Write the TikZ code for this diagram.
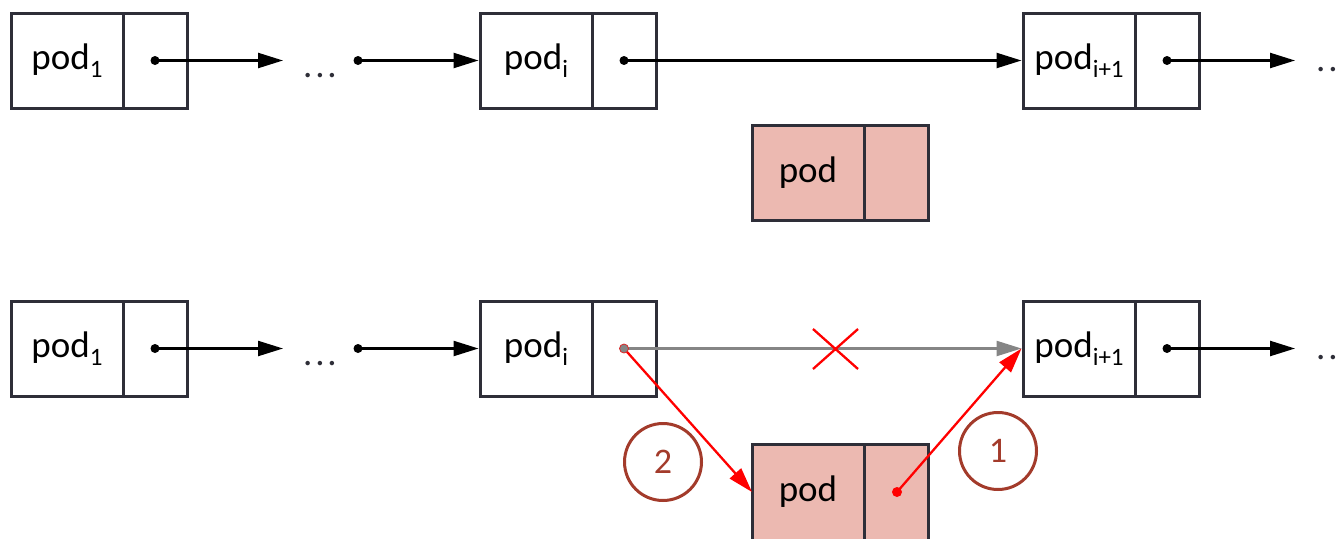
\documentclass[tikz,border=0pt]{standalone}
\usepackage{fontspec}
\setmainfont{Carlito}
\usetikzlibrary{arrows.meta}
\definecolor{bord}{HTML}{2E2E38}
\definecolor{podfill}{HTML}{ECB9B1}
\definecolor{circ}{HTML}{A33B2B}
\definecolor{grayline}{HTML}{858585}
\newcommand\sbs[1]{\raisebox{-8pt}{\fontsize{25}{25}\selectfont #1}}
\newcommand\elli{.\kern2.8pt.\kern2.8pt.}
\begin{document}
\begin{tikzpicture}[x=1pt,y=-1pt,
  cellL/.style={draw=bord, line width=3pt, minimum width=112pt, minimum height=95pt, inner sep=0pt, font=\fontsize{37}{40}\selectfont},
  cellR/.style={draw=bord, line width=3pt, minimum width=64pt, minimum height=95pt, inner sep=0pt},
  redcell/.style={fill=podfill},
  arr/.style={line width=2.3pt, -{Triangle[length=25pt,width=15pt]}},
  grayarr/.style={line width=2.3pt, grayline, -{Triangle[length=25pt,width=15pt]}},
  redarr/.style={line width=2.3pt, red, -{Triangle[length=25pt,width=15pt]}},
  ell/.style={font=\fontsize{37}{40}\selectfont, text=bord, inner sep=0pt, anchor=base west},
  num/.style={circle, draw=circ, line width=3pt, minimum size=77pt, inner sep=0pt, text=circ, font=\fontsize{36}{38}\selectfont}
]
\useasboundingbox (0,0) rectangle (1340,538);
\clip (0,0) rectangle (1340,538);

% ---------- top row ----------
\node[cellL] (a1) at (67,60.5) {pod\sbs{1}};
\node[cellR] (a1r) at (155,60.5) {};
\node[ell] (e1) at (303,77) {\elli};
\coordinate (t1) at (283,60.5);
\coordinate (s1) at (358,60.5);
\node[cellL] (ai) at (536,60.5) {pod\sbs{i}};
\node[cellR] (air) at (624,60.5) {};
\node[cellL] (aip) at (1079,60.5) {pod\sbs{i+1}};
\node[cellR] (aipr) at (1167,60.5) {};
\coordinate (t2) at (1295,60.5);
\node[ell] (e2) at (1316,71) {\elli};

\fill (a1r.center) circle (4.5);
\draw[arr] (a1r.center) -- (t1);
\fill (s1) circle (4.5);
\draw[arr] (s1) -- (ai.west);
\fill (air.center) circle (4.5);
\draw[arr] (air.center) -- (aip.west);
\fill (aipr.center) circle (4.5);
\draw[arr] (aipr.center) -- (t2);

% new pod (top)
\node[cellL, redcell] (rp) at (808,172.5) {pod};
\node[cellR, redcell] (rpr) at (896,172.5) {};

% ---------- bottom row ----------
\node[cellL] (b1) at (67,348.5) {pod\sbs{1}};
\node[cellR] (b1r) at (155,348.5) {};
\node[ell] (e3) at (303,365) {\elli};
\coordinate (t3) at (283,348.5);
\coordinate (s3) at (358,348.5);
\node[cellL] (bi) at (536,348.5) {pod\sbs{i}};
\node[cellR] (bir) at (624,348.5) {};
\node[cellL] (bip) at (1079,348.5) {pod\sbs{i+1}};
\node[cellR] (bipr) at (1167,348.5) {};
\coordinate (t4) at (1295,348.5);
\node[ell] (e4) at (1316,359) {\elli};

\fill (b1r.center) circle (4.5);
\draw[arr] (b1r.center) -- (t3);
\fill (s3) circle (4.5);
\draw[arr] (s3) -- (bi.west);
\fill (bipr.center) circle (4.5);
\draw[arr] (bipr.center) -- (t4);

% new pod (bottom), its lower edge lies below the picture
\node[cellL, redcell, minimum height=102pt] (rb) at (808,495) {};
\node[cellR, redcell, minimum height=102pt] (rbr) at (896,495) {};
\node[font=\fontsize{37}{40}\selectfont, inner sep=0pt] (rbt) at (808,492) {pod};
\coordinate (rbw) at (752,492);
\coordinate (rbd) at (897,492);

% old link (grey) and cross
\draw[grayarr] (bir.center) -- (bip.west);
\draw[red, line width=2.3pt] (813,329) -- (858,369) (813,369) -- (858,329);

% new links (red)
\draw[redarr] (bir.center) -- (rbw);
\filldraw[fill=grayline, draw=red!70!grayline, line width=0.8pt] (bir.center) circle (4.5);
\fill[red] (rbd) circle (5);
\draw[redarr] (rbd) -- (bip.west);

% step numbers
\node[num] (c2) at (663,462) {2};
\node[num] (c1) at (998,451) {1};
\end{tikzpicture}
\end{document}
